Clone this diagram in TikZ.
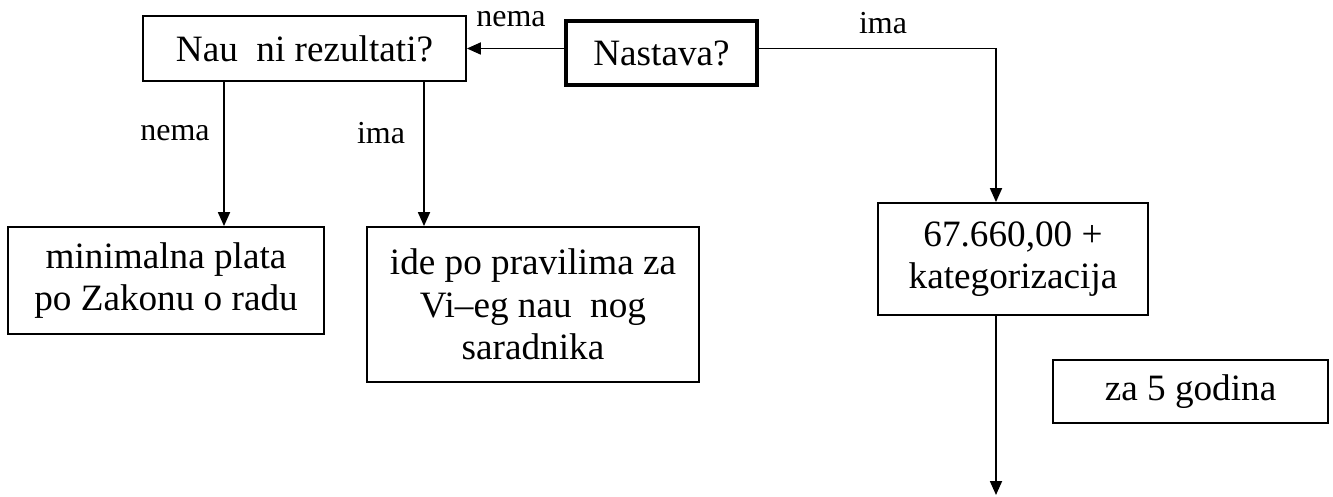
\documentclass[tikz,border=0pt]{standalone}
\usepackage{fontspec}
\setmainfont{Liberation Serif}
\usetikzlibrary{arrows.meta}
\tikzset{
  box/.style={draw,line width=0.9pt,align=center,inner sep=0pt,font=\fontsize{18.6}{21.3}\selectfont},
  lbl/.style={font=\fontsize{16}{18}\selectfont},
  arr/.style={-{Triangle[length=7pt,width=6pt]},line width=0.9pt}
}
\begin{document}
\begin{tikzpicture}[x=0.5pt,y=-0.5pt]
      \useasboundingbox (0,0) rectangle (1333,497);
      \node[box,minimum width=161.5pt,minimum height=32.5pt] (rez) at (304.5,48.5) {Nau\ \ ni rezultati?};
      \node[box,line width=1.8pt,minimum width=95.5pt,minimum height=32pt] (nastava) at (661.5,53) {Nastava?};
      \node[box,minimum width=158pt,minimum height=53.5pt] (min) at (166,280.5) {minimalna plata\\po Zakonu o radu};
      \node[box,minimum width=166pt,minimum height=77.5pt] (ide) at (533,304.5) {ide po pravilima za\\Vi–eg nau\ \ nog\\saradnika};
      \node[box,minimum width=135pt,minimum height=56pt] (kat) at (1013,259) {67.660,00 +\\kategorizacija};
      \node[box,minimum width=137.5pt,minimum height=31.5pt] (god) at (1190.5,391.5) {za 5 godina};
      \coordinate (dalje) at (996,495);
      \draw[arr] (nastava.west |- rez.east) -- (rez.east);
      \draw[arr] (nastava.east |- rez.east) -| ([xshift=-8.5pt]kat.north);
      \draw[arr] ([xshift=-40.25pt]rez.south) -- ([xshift=29pt]min.north);
      \draw[arr] ([xshift=59.75pt]rez.south) -- ([xshift=-54.5pt]ide.north);
      \draw[arr] ([xshift=-8.5pt]kat.south) -- (dalje);
      \node[lbl] (nemagore) at (511,19) {nema};
      \node[lbl] (imagore) at (883,23) {ima};
      \node[lbl] (nemadole) at (175,133) {nema};
      \node[lbl] (imadole) at (381,133) {ima};
    \end{tikzpicture}
\end{document}
